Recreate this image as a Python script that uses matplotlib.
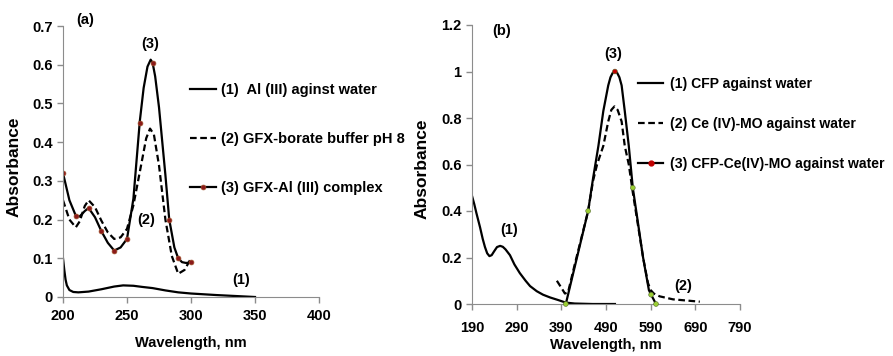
import matplotlib.pyplot as plt
from matplotlib.lines import Line2D

plt.rcParams['font.family'] = ['Liberation Sans', 'DejaVu Sans']
plt.rcParams['font.weight'] = 'bold'

# ---- panel (a) ----
wl_al = [200, 201, 202, 203, 205, 208, 212, 220, 230, 240, 247, 255, 262, 270, 280, 290,
         300, 320, 350]
abs_al = [0.10, 0.07, 0.045, 0.03, 0.018, 0.013, 0.012, 0.014, 0.02, 0.027, 0.03, 0.029,
          0.026, 0.023, 0.017, 0.012, 0.009, 0.005, 0.0]

wl_gfx = [200, 205, 210, 213, 217, 220, 225, 230, 235, 240, 245, 250, 255, 260, 265, 268,
          271, 275, 280, 285, 290, 295, 300]
abs_gfx = [0.25, 0.20, 0.18, 0.195, 0.235, 0.25, 0.232, 0.197, 0.167, 0.15, 0.154, 0.176,
           0.237, 0.323, 0.41, 0.435, 0.42, 0.34, 0.20, 0.106, 0.06, 0.07, 0.10]

wl_cplx = [200, 205, 210, 213, 217, 220, 225, 230, 235, 240, 245, 250, 255, 260, 263, 266,
           268.5, 270, 272, 275, 280, 283, 287, 290, 293, 296, 300]
abs_cplx = [0.32, 0.25, 0.21, 0.208, 0.222, 0.23, 0.206, 0.17, 0.14, 0.12, 0.128, 0.15,
            0.254, 0.454, 0.54, 0.595, 0.613, 0.605, 0.57, 0.49, 0.315, 0.20, 0.128, 0.10,
            0.09, 0.088, 0.089]
wl_cplx_pts = [200, 210, 220, 230, 240, 250, 260, 270, 283, 290, 300]
abs_cplx_pts = [0.32, 0.21, 0.23, 0.17, 0.12, 0.15, 0.45, 0.605, 0.20, 0.10, 0.09]

# ---- panel (b) ----
wl_cfp = [190, 195, 200, 208, 214, 219, 224, 229, 234, 240, 246, 253, 259, 265, 275, 285,
          297, 310, 320, 335, 349, 365, 383, 400, 420, 460, 510]
abs_cfp = [0.465, 0.43, 0.39, 0.33, 0.28, 0.245, 0.218, 0.206, 0.21, 0.228, 0.245, 0.25,
           0.246, 0.235, 0.21, 0.17, 0.133, 0.10, 0.077, 0.055, 0.04, 0.028, 0.017, 0.006,
           0.002, 0.0, 0.0]

wl_ce = [380, 390, 398, 405, 420, 450, 461, 470, 484, 495, 502, 509, 516, 525, 532, 541,
         550, 573, 584, 590, 597, 610, 640, 670, 700]
abs_ce = [0.10, 0.07, 0.045, 0.05, 0.17, 0.40, 0.53, 0.60, 0.68, 0.785, 0.835, 0.85, 0.835,
          0.785, 0.68, 0.60, 0.48, 0.20, 0.09, 0.06, 0.045, 0.033, 0.02, 0.015, 0.01]

wl_mix = [400, 425, 450, 461, 473, 484, 495, 500, 505, 510, 515, 520, 525, 532, 541, 550,
          573, 586, 591, 602]
abs_mix = [0.0, 0.2, 0.40, 0.54, 0.68, 0.83, 0.94, 0.975, 0.994, 1.0, 0.994, 0.975, 0.94,
           0.83, 0.68, 0.50, 0.20, 0.06, 0.04, 0.0]
wl_mix_pts = [400, 450, 510, 550, 591, 602]
abs_mix_pts = [0.0, 0.40, 1.0, 0.50, 0.04, 0.0]
mix_pt_colors = ['#9acd32', '#9acd32', '#c00000', '#9acd32', '#9acd32', '#9acd32']

GREY = '#8c8c8c'
FS = 10.5


def style_axes(ax):
    for s in ['top', 'right']:
        ax.spines[s].set_visible(False)
    for s in ['left', 'bottom']:
        ax.spines[s].set_color(GREY)
    ax.tick_params(colors=GREY, labelcolor='black', labelsize=FS, width=1, length=4)
    for lab in ax.get_xticklabels() + ax.get_yticklabels():
        lab.set_fontweight('bold')


fig = plt.figure(figsize=(8.93, 3.56), dpi=100)

# panel (a)
ax1 = fig.add_axes([63 / 893, 1 - 297 / 356, 256 / 893, 271 / 356])
ax1.plot(wl_al, abs_al, color='black', lw=1.6)
ax1.plot(wl_gfx, abs_gfx, color='black', lw=1.6, ls='--', dashes=(3, 1.6))
ax1.plot(wl_cplx, abs_cplx, color='black', lw=1.6)
ax1.plot(wl_cplx_pts, abs_cplx_pts, ls='none', marker='o', ms=3.5,
         mfc='#8b1a1a', mec='#a0522d', mew=0.5)
ax1.set_xlim(200, 400)
ax1.set_ylim(0, 0.7)
ax1.set_xticks([200, 250, 300, 350, 400])
ax1.set_yticks([0, 0.1, 0.2, 0.3, 0.4, 0.5, 0.6, 0.7])
ax1.set_yticklabels(['0', '0.1', '0.2', '0.3', '0.4', '0.5', '0.6', '0.7'])
style_axes(ax1)
ax1.tick_params(axis='x', pad=5)
ax1.set_xlabel('Wavelength, nm', fontsize=FS, fontweight='bold')
ax1.xaxis.set_label_coords(0.5, -0.145)
ax1.set_ylabel('Absorbance', fontsize=12.5, fontweight='bold')
ax1.yaxis.set_label_coords(-0.16, 0.48)
ax1.text(217.6, 0.7155, '(a)', fontsize=FS, fontweight='bold', ha='center', va='center')
ax1.text(268.5, 0.654, '(3)', fontsize=FS, fontweight='bold', ha='center', va='center')
ax1.text(265, 0.2, '(2)', fontsize=FS, fontweight='bold', ha='center', va='center')
ax1.text(339, 0.045, '(1)', fontsize=FS, fontweight='bold', ha='center', va='center')

h_a = [Line2D([], [], color='black', lw=1.6),
       Line2D([], [], color='black', lw=1.6, ls='--', dashes=(3, 1.6)),
       Line2D([], [], color='black', lw=1.6, marker='o', ms=3.5,
              mfc='#8b1a1a', mec='#a0522d', mew=0.5)]
fig.legend(h_a, ['(1)  Al (III) aginst water', '(2) GFX-borate buffer pH 8',
                 '(3) GFX-Al (III) complex'],
           loc='upper left', bbox_to_anchor=(190 / 893, 1 - 83 / 356), frameon=False,
           prop={'size': FS, 'weight': 'bold'}, handlelength=1.75, handletextpad=0.4,
           labelspacing=2.4, borderpad=0, borderaxespad=0)

# panel (b)
ax2 = fig.add_axes([472 / 893, 1 - 304 / 356, 268 / 893, 279 / 356])
ax2.plot(wl_cfp, abs_cfp, color='black', lw=1.6)
ax2.plot(wl_ce, abs_ce, color='black', lw=1.6, ls='--', dashes=(3, 1.6))
ax2.plot(wl_mix, abs_mix, color='black', lw=1.6)
ax2.scatter(wl_mix_pts, abs_mix_pts, s=12, c=mix_pt_colors, edgecolors='#556b2f',
            linewidths=0.4, zorder=3, clip_on=False)
ax2.set_xlim(190, 790)
ax2.set_ylim(0, 1.2)
ax2.set_xticks([190, 290, 390, 490, 590, 690, 790])
ax2.set_yticks([0, 0.2, 0.4, 0.6, 0.8, 1.0, 1.2])
ax2.set_yticklabels(['0', '0.2', '0.4', '0.6', '0.8', '1', '1.2'])
style_axes(ax2)
ax2.tick_params(axis='x', pad=8)
ax2.set_xlabel('Wavelength, nm', fontsize=FS, fontweight='bold')
ax2.xaxis.set_label_coords(0.5, -0.122)
ax2.set_ylabel('Absorbance', fontsize=12.5, fontweight='bold')
ax2.yaxis.set_label_coords(-0.16, 0.484)
ax2.text(257, 1.174, '(b)', fontsize=FS, fontweight='bold', ha='center', va='center')
ax2.text(507, 1.075, '(3)', fontsize=FS, fontweight='bold', ha='center', va='center')
ax2.text(273, 0.318, '(1)', fontsize=FS, fontweight='bold', ha='center', va='center')
ax2.text(662, 0.077, '(2)', fontsize=FS, fontweight='bold', ha='center', va='center')

h_b = [Line2D([], [], color='black', lw=1.6),
       Line2D([], [], color='black', lw=1.6, ls='--', dashes=(3, 1.6)),
       Line2D([], [], color='black', lw=1.6, marker='o', ms=3.5,
              mfc='#c00000', mec='#c00000')]
fig.legend(h_b, ['(1) CFP against water', '(2) Ce (IV)-MO against water',
                 '(3) CFP-Ce(IV)-MO against water'],
           loc='upper left', bbox_to_anchor=(638 / 893, 1 - 77 / 356), frameon=False,
           prop={'size': 10.1, 'weight': 'bold'}, handlelength=1.8, handletextpad=0.45,
           labelspacing=1.85, borderpad=0, borderaxespad=0)

fig.savefig('out.png', dpi=100)
